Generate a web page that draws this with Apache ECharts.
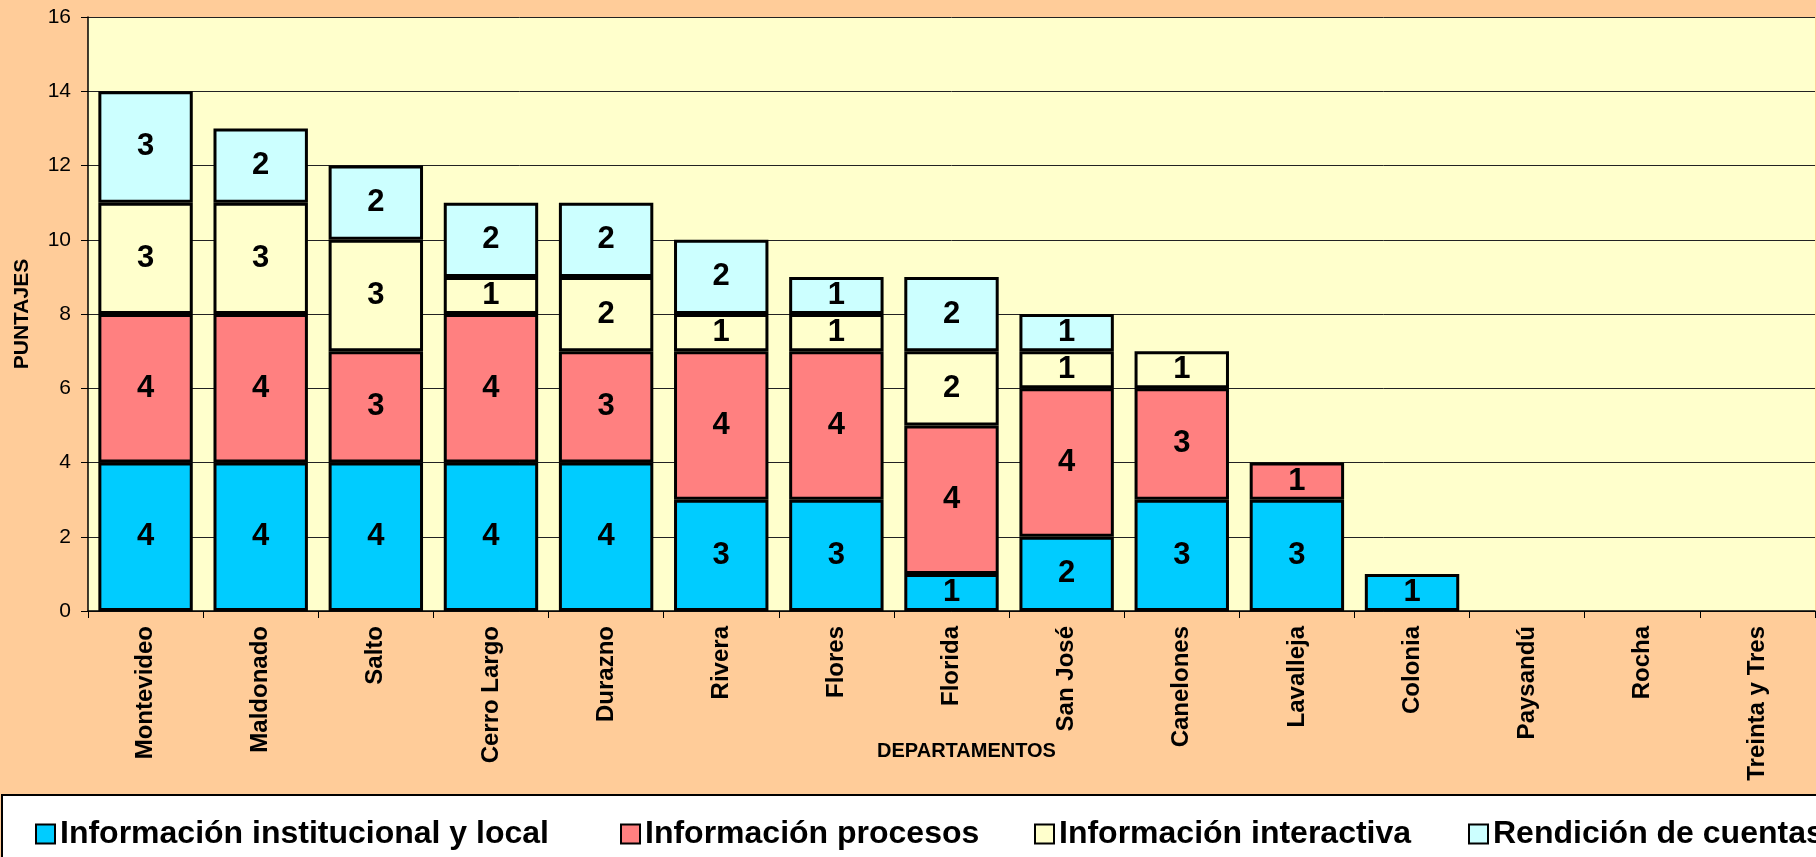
<!DOCTYPE html>
<html>
  <head>
    <meta charset="utf-8">
    <title>Puntajes por departamento</title>
    <script src="https://cdn.jsdelivr.net/npm/echarts@6/dist/echarts.min.js"></script>
    <style>
      html, body { margin: 0; padding: 0; background: #FFCC99; }
      #main { width: 1816px; height: 857px; }
    </style>
  </head>
  <body>
    <div id="main"></div>
    <script>
      // datos (null = sin puntaje)
      const departamentos = ['Montevideo', 'Maldonado', 'Salto', 'Cerro Largo', 'Durazno', 'Rivera', 'Flores',
        'Florida', 'San José', 'Canelones', 'Lavalleja', 'Colonia', 'Paysandú', 'Rocha', 'Treinta y Tres'];
      const institucional = [4, 4, 4, 4, 4, 3, 3, 1, 2, 3, 3, 1, null, null, null];
      const procesos      = [4, 4, 3, 4, 3, 4, 4, 4, 4, 3, 1, null, null, null, null];
      const interactiva   = [3, 3, 3, 1, 2, 1, 1, 2, 1, 1, null, null, null, null, null];
      const rendicion     = [3, 2, 2, 2, 2, 2, 1, 2, 1, null, null, null, null, null, null];
      const yTicks = [0, 2, 4, 6, 8, 10, 12, 14, 16];

      const nombres = ['Información institucional y local', 'Información procesos',
        'Información interactiva', 'Rendición de cuentas'];
      const colores = ['#00CCFF', '#FF8080', '#FFFFCC', '#CCFFFF'];
      const valores = [institucional, procesos, interactiva, rendicion];
      const legendLeft = [35, 620, 1034, 1468];
      const font = "'Liberation Sans', Arial, sans-serif";

      const chart = echarts.init(document.getElementById('main'));

      const series = nombres.map(function (n, i) {
        return {
          name: n,
          type: 'bar',
          stack: 'total',
          data: valores[i],
          barWidth: '82%',
          itemStyle: { color: colores[i], borderColor: '#000', borderWidth: 3 },
          label: {
            show: true,
            position: 'inside',
            color: '#000',
            fontFamily: font,
            fontWeight: 'bold',
            fontSize: 31
          },
          emphasis: { disabled: true }
        };
      });

      const legends = nombres.map(function (n, i) {
        return {
          data: [n],
          left: legendLeft[i],
          top: 818,
          padding: 0,
          itemWidth: 19,
          itemHeight: 19,
          icon: 'rect',
          itemStyle: { borderColor: '#000', borderWidth: 2 },
          textStyle: { fontFamily: font, fontWeight: 'bold', fontSize: 32, color: '#000' },
          selectedMode: false
        };
      });

      chart.setOption({
        backgroundColor: '#FFCC99',
        animation: false,
        textStyle: { fontFamily: font },
        graphic: [{
          type: 'rect',
          z: -1,
          shape: { x: 2, y: 795, width: 1840, height: 80 },
          style: { fill: '#FFFFFF', stroke: '#000', lineWidth: 2 }
        }],
        legend: legends,
        grid: {
          left: 88, top: 17, right: 1, bottom: 246,
          show: true,
          backgroundColor: '#FFFFCC',
          borderWidth: 0
        },
        xAxis: {
          type: 'category',
          data: departamentos,
          name: 'DEPARTAMENTOS',
          nameLocation: 'middle',
          nameGap: 130,
          nameMoveOverlap: false,
          nameTextStyle: { fontFamily: font, fontWeight: 'bold', fontSize: 20, color: '#000', padding: [0, 0, 0, 30] },
          axisLine: { lineStyle: { color: '#000', width: 1.5 } },
          axisTick: { show: true, length: 7, lineStyle: { color: '#000' } },
          axisLabel: {
            rotate: 90,
            margin: 15,
            interval: 0,
            color: '#000',
            fontFamily: font,
            fontWeight: 'bold',
            fontSize: 24
          },
          splitLine: { show: false }
        },
        yAxis: {
          type: 'value',
          min: yTicks[0],
          max: yTicks[yTicks.length - 1],
          interval: 2,
          name: 'PUNTAJES',
          nameLocation: 'middle',
          nameGap: 55,
          nameMoveOverlap: false,
          nameTextStyle: { fontFamily: font, fontWeight: 'bold', fontSize: 21, color: '#000' },
          axisLine: { show: true, lineStyle: { color: '#000', width: 1.5 } },
          axisTick: { show: true, length: 7, lineStyle: { color: '#000' } },
          axisLabel: { color: '#000', fontFamily: font, fontSize: 21, margin: 17 },
          splitLine: { show: true, lineStyle: { color: '#222', width: 1 } }
        },
        series: series
      });
    </script>
  </body>
</html>
